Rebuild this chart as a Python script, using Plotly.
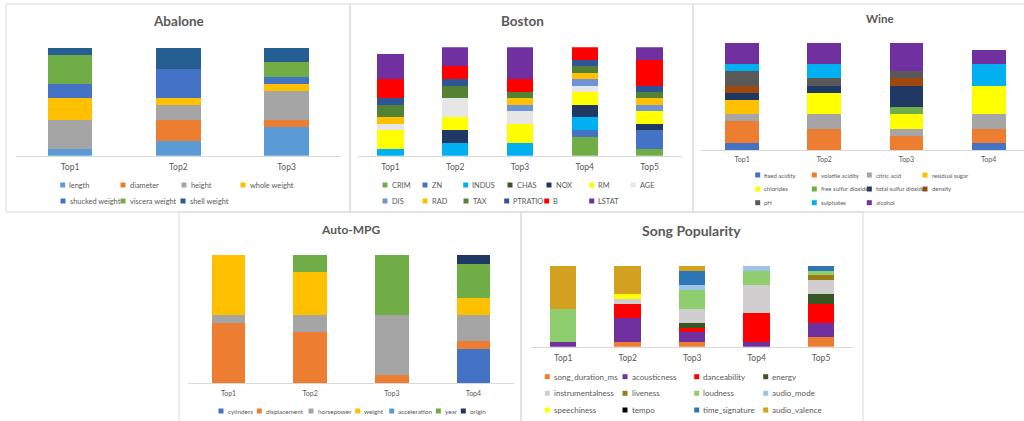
import plotly.graph_objects as go

W, H = 1024, 421
FONT = "Lato"
TXT = "#595959"
BORDER = "#d9d9d9"

# ---------------- data ----------------
abalone_categories = ["Top1", "Top2", "Top3"]
abalone_features = ["length", "diameter", "height", "whole weight",
                    "shucked weight", "viscera weight", "shell weight"]
abalone_values = [
    [1, 2, 4],  # length
    [0, 3, 1],  # diameter
    [4, 2, 4],  # height
    [3, 1, 1],  # whole weight
    [2, 4, 1],  # shucked weight
    [4, 0, 2],  # viscera weight
    [1, 3, 2],  # shell weight
]
abalone_colors = ["#5b9bd5", "#ed7d31", "#a5a5a5", "#ffc000", "#4472c4", "#70ad47", "#255e91"]

boston_categories = ["Top1", "Top2", "Top3", "Top4", "Top5"]
boston_features = ["CRIM", "ZN", "INDUS", "CHAS", "NOX", "RM", "AGE",
                   "DIS", "RAD", "TAX", "PTRATIO", "B", "LSTAT"]
boston_values = [
    [0, 0, 0, 3, 1],  # CRIM
    [0, 0, 0, 1, 3],  # ZN
    [1, 2, 2, 2, 0],  # INDUS
    [0, 0, 0, 0, 0],  # CHAS
    [0, 2, 0, 2, 1],  # NOX
    [3, 2, 3, 2, 2],  # RM
    [1, 3, 2, 1, 0],  # AGE
    [0, 0, 1, 1, 1],  # DIS
    [1, 0, 1, 1, 1],  # RAD
    [2, 2, 1, 1, 1],  # TAX
    [1, 1, 0, 1, 1],  # PTRATIO
    [3, 2, 2, 2, 4],  # B
    [4, 3, 5, 0, 2],  # LSTAT
]
boston_colors = ["#70ad47", "#4472c4", "#00b0f0", "#375623", "#203864", "#ffff00", "#e7e6e6",
                 "#6f94d6", "#ffc000", "#548235", "#2f5597", "#ff0000", "#7030a0"]

wine_categories = ["Top1", "Top2", "Top3", "Top4"]
wine_features = ["fixed acidity", "volatile acidity", "citric acid", "residual sugar",
                 "chlorides", "free sulfur dioxide", "total sulfur dioxide", "density",
                 "pH", "sulphates", "alcohol"]
wine_values = [
    [1, 0, 0, 1],  # fixed acidity
    [3, 3, 2, 2],  # volatile acidity
    [1, 2, 1, 2],  # citric acid
    [2, 0, 0, 0],  # residual sugar
    [0, 3, 2, 4],  # chlorides
    [0, 0, 1, 0],  # free sulfur dioxide
    [1, 1, 3, 0],  # total sulfur dioxide
    [1, 0, 1, 0],  # density
    [2, 1, 1, 0],  # pH
    [1, 2, 0, 3],  # sulphates
    [3, 3, 4, 2],  # alcohol
]
wine_colors = ["#4472c4", "#ed7d31", "#a5a5a5", "#ffc000", "#ffff00", "#70ad47", "#203864",
               "#9e480e", "#595959", "#00b0f0", "#7030a0"]

auto_categories = ["Top1", "Top2", "Top3", "Top4"]
auto_features = ["cylinders", "displacement", "horsepower", "weight",
                 "acceleration", "year", "origin"]
auto_values = [
    [0, 0, 0, 4],  # cylinders
    [7, 6, 1, 1],  # displacement
    [1, 2, 7, 3],  # horsepower
    [7, 5, 0, 2],  # weight
    [0, 0, 0, 0],  # acceleration
    [0, 2, 7, 4],  # year
    [0, 0, 0, 1],  # origin
]
auto_colors = ["#4472c4", "#ed7d31", "#a5a5a5", "#ffc000", "#5b9bd5", "#70ad47", "#203864"]

song_categories = ["Top1", "Top2", "Top3", "Top4", "Top5"]
song_features = ["song_duration_ms", "acousticness", "danceability", "energy",
                 "instrumentalness", "liveness", "loudness", "audio_mode",
                 "speechiness", "tempo", "time_signature", "audio_valence"]
song_values = [
    [0, 1, 1, 0, 2],  # song_duration_ms
    [1, 5, 2, 1, 3],  # acousticness
    [0, 3, 1, 6, 4],  # danceability
    [0, 0, 1, 0, 2],  # energy
    [0, 1, 3, 6, 3],  # instrumentalness
    [0, 0, 0, 0, 1],  # liveness
    [7, 0, 4, 3, 1],  # loudness
    [0, 0, 1, 1, 0],  # audio_mode
    [0, 1, 0, 0, 0],  # speechiness
    [0, 0, 0, 0, 0],  # tempo
    [0, 0, 3, 0, 1],  # time_signature
    [9, 6, 1, 0, 0],  # audio_valence
]
song_colors = ["#ed7d31", "#7030a0", "#ff0000", "#375623", "#d0cece", "#9c7a14", "#8fce6f",
               "#9dc3e6", "#ffff00", "#000000", "#2e75b6", "#d4a020"]

# ---------------- layout helpers ----------------
def px(v):
    return v / W


def py(v):
    return 1 - v / H


panels = [
    dict(title="Abalone", cats=abalone_categories, feats=abalone_features, vals=abalone_values,
         colors=abalone_colors, x0=16, x1=340.7, yax=155.7, ytop=47.7, ymax=15, xr=None,
         tpos=(178, 20.7), tsize=13.5, ticksize=8.5, lsize=7.4,
         legend=[[(62.7, 185), (123, 185), (184, 185), (243, 185)],
                 [(63, 201), (123, 201), (183, 201)]]),
    dict(title="Boston", cats=boston_categories, feats=boston_features, vals=boston_values,
         colors=boston_colors, x0=358, x1=682, yax=155.7, ytop=47.3, ymax=17, xr=None,
         tpos=(522, 20.7), tsize=13.5, ticksize=8.5, lsize=7.4,
         legend=[[(385, 185), (425, 185), (465.7, 185), (510, 185), (549, 185), (591.7, 185), (633, 185)],
                 [(385, 201), (425, 201), (466, 201), (506.7, 201), (546.7, 201), (591.7, 201)]]),
    dict(title="Wine", cats=wine_categories, feats=wine_features, vals=wine_values,
         colors=wine_colors, x0=701, x1=1024, yax=150, ytop=42.7, ymax=15, xr=[-0.5, 3.43],
         tpos=(880, 18.3), tsize=11.5, ticksize=7, lsize=6,
         legend=[[(757.7, 175), (814.3, 175), (869.3, 175), (925, 175)],
                 [(757.7, 189), (814.3, 189), (869.3, 189), (925, 189)],
                 [(757.7, 202.7), (814.3, 202.7), (869.3, 202.7)]]),
    dict(title="Auto-MPG", cats=auto_categories, feats=auto_features, vals=auto_values,
         colors=auto_colors, x0=187.7, x1=514.3, yax=383.3, ytop=255, ymax=15, xr=None,
         tpos=(350.7, 229), tsize=12, ticksize=7, lsize=6.4,
         legend=[[(221, 411), (259.3, 411), (311, 411), (357.7, 411), (391.7, 411), (438.3, 411), (463.3, 411)]]),
    dict(title="Song Popularity", cats=song_categories, feats=song_features, vals=song_values,
         colors=song_colors, x0=531, x1=853.3, yax=346.7, ytop=266, ymax=17, xr=None,
         tpos=(691.7, 230.7), tsize=14, ticksize=8.5, lsize=8,
         legend=[[(547.3, 376.7), (625, 376.7), (696.7, 376.7), (765.7, 376.7)],
                 [(547.3, 393.3), (625, 393.3), (696.7, 393.3), (765.7, 393.3)],
                 [(547.3, 410), (625, 410), (696.7, 410), (765.7, 410)]]),
]

fig = go.Figure()
shapes = []
annotations = []
layout_axes = {}

for i, p in enumerate(panels):
    n = i + 1
    xa = "x" if n == 1 else f"x{n}"
    ya = "y" if n == 1 else f"y{n}"
    for feat, vals, col in zip(p["feats"], p["vals"], p["colors"]):
        fig.add_trace(go.Bar(
            x=p["cats"], y=vals, name=feat, xaxis=xa, yaxis=ya,
            marker=dict(color=col, line=dict(width=0)), width=0.41,
            showlegend=False, hovertemplate=f"{feat}: %{{y}}<extra>%{{x}}</extra>",
        ))
    xr = p["xr"] if p["xr"] else [-0.5, len(p["cats"]) - 0.5]
    layout_axes["xaxis" if n == 1 else f"xaxis{n}"] = dict(
        domain=[px(p["x0"]), px(p["x1"])], anchor=ya, range=xr, type="category",
        showline=True, linecolor=BORDER, linewidth=1, showgrid=False, zeroline=False,
        ticks="", tickfont=dict(family=FONT, size=p["ticksize"], color=TXT),
        ticklabelstandoff=3, fixedrange=True,
    )
    layout_axes["yaxis" if n == 1 else f"yaxis{n}"] = dict(
        domain=[py(p["yax"]), py(p["ytop"])], anchor=xa, range=[0, p["ymax"]],
        visible=False, fixedrange=True,
    )
    # title
    annotations.append(dict(
        text=f"<b>{p['title']}</b>", x=px(p["tpos"][0]), y=py(p["tpos"][1]),
        xref="paper", yref="paper", xanchor="center", yanchor="middle", showarrow=False,
        font=dict(family=FONT, size=p["tsize"], color=TXT),
    ))
    # legend (swatch + label)
    k = 0
    for row in p["legend"]:
        for (cx, cy) in row:
            feat = p["feats"][k]
            col = p["colors"][k]
            k += 1
            s = 2.5
            shapes.append(dict(type="rect", xref="paper", yref="paper",
                               x0=px(cx - s), x1=px(cx + s), y0=py(cy + s), y1=py(cy - s),
                               fillcolor=col, line=dict(width=0)))
            annotations.append(dict(
                text=feat, x=px(cx + 4.5), y=py(cy), xref="paper", yref="paper",
                xanchor="left", yanchor="middle", showarrow=False,
                font=dict(family=FONT, size=p["lsize"], color=TXT),
            ))

# panel borders
for (x0, y0, x1, y1) in [(6, 4, 350, 212), (350, 4, 693, 212), (693, 4, 1040, 212),
                         (179, 212, 521, 440), (521, 212, 863, 440)]:
    shapes.append(dict(type="rect", xref="paper", yref="paper",
                       x0=px(x0), x1=px(x1), y0=py(y1), y1=py(y0),
                       line=dict(color=BORDER, width=1), fillcolor="rgba(0,0,0,0)", layer="below"))

fig.update_layout(
    width=W, height=H, margin=dict(l=0, r=0, t=0, b=0),
    paper_bgcolor="white", plot_bgcolor="rgba(0,0,0,0)",
    barmode="stack", showlegend=False,
    shapes=shapes, annotations=annotations,
    font=dict(family=FONT, color=TXT),
    **layout_axes,
)

fig.write_html("out.html", config={"displayModeBar": False})
